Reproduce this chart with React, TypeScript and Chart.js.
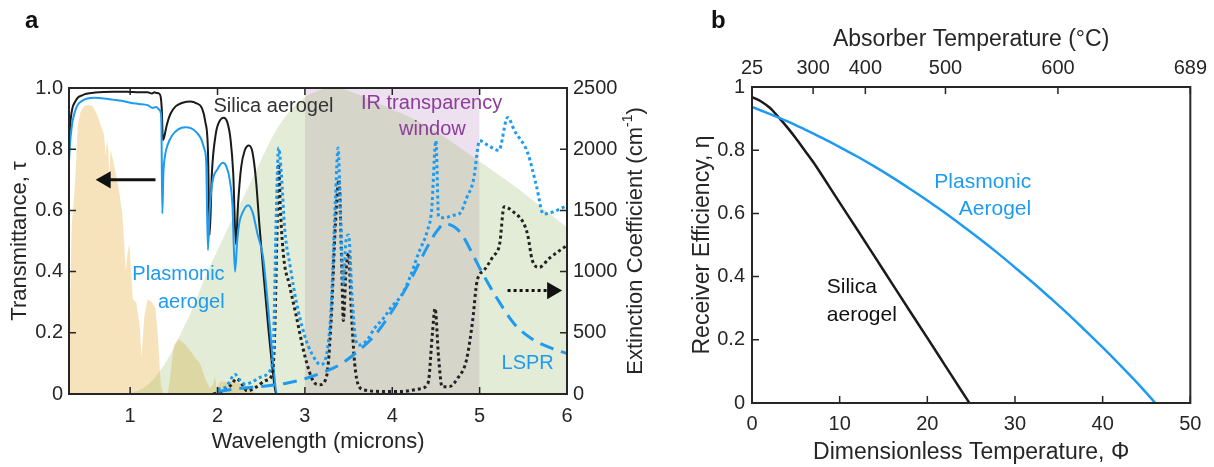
import React, { useEffect, useRef } from 'react';
import { Chart, registerables } from 'chart.js';

Chart.register(...registerables);

const FONT = "'Liberation Sans', Arial, Helvetica, sans-serif";
const INK = '#262626';
const BLUE = '#1e9bf0';
const PURPLE = '#8e3c9a';

Chart.defaults.font.family = FONT;

// ---------- panel a: spectra ----------
// AM1.5-style solar spectrum, scaled onto the transmittance axis
const SOLAR_WL = [0.30, 0.315, 0.33, 0.36, 0.38, 0.40, 0.43, 0.47, 0.52, 0.57, 0.62, 0.66, 0.70, 0.72, 0.735, 0.75, 0.76, 0.775, 0.80, 0.85, 0.88, 0.91, 0.93, 0.95, 0.97, 0.99, 1.01, 1.03, 1.07, 1.11, 1.13, 1.16, 1.20, 1.25, 1.29, 1.32, 1.35, 1.38, 1.43, 1.46, 1.50, 1.55, 1.62, 1.68, 1.74, 1.80, 1.86, 1.91, 1.95, 1.97, 1.99, 2.03, 2.10, 2.20, 2.30, 2.40, 2.45];
const SOLAR_REL = [0, 0.30, 0.55, 0.65, 0.75, 0.88, 0.92, 0.94, 0.945, 0.94, 0.915, 0.88, 0.85, 0.78, 0.83, 0.80, 0.70, 0.80, 0.77, 0.70, 0.65, 0.59, 0.50, 0.40, 0.46, 0.49, 0.40, 0.31, 0.30, 0.22, 0.12, 0.25, 0.31, 0.30, 0.28, 0.18, 0.03, 0, 0, 0.06, 0.16, 0.18, 0.165, 0.145, 0.12, 0.10, 0.05, 0.02, 0.03, 0.06, 0.02, 0.04, 0.04, 0.04, 0.03, 0.01, 0];

// Absorber thermal emission, relative
const BB_WL = [0.95, 1.0, 1.1, 1.2, 1.3, 1.4, 1.5, 1.6, 1.7, 1.8, 1.9, 2.0, 2.1, 2.2, 2.3, 2.4, 2.5, 2.6, 2.7, 2.8, 2.9, 3.0, 3.1, 3.2, 3.3, 3.4, 3.6, 3.8, 4.0, 4.2, 4.4, 4.6, 4.8, 5.0, 5.2, 5.4, 5.6, 5.8, 6.0];
const BB_REL = [0, 0.003, 0.012, 0.03, 0.06, 0.10, 0.15, 0.21, 0.27, 0.34, 0.41, 0.47, 0.53, 0.59, 0.645, 0.705, 0.765, 0.825, 0.875, 0.915, 0.945, 0.97, 0.985, 0.995, 1.0, 0.998, 0.98, 0.955, 0.93, 0.905, 0.875, 0.84, 0.80, 0.76, 0.72, 0.68, 0.635, 0.59, 0.545];

// IR transparency window
const WINDOW_WL = [3, 5];
const WINDOW_TOP = [1, 1];

// Transmittance
const SILICA_T_WL = [0.30, 0.31, 0.32, 0.34, 0.37, 0.40, 0.45, 0.50, 0.60, 0.70, 0.80, 0.90, 1.00, 1.10, 1.20, 1.25, 1.28, 1.30, 1.33, 1.35, 1.362, 1.375, 1.39, 1.42, 1.46, 1.52, 1.60, 1.69, 1.76, 1.82, 1.86, 1.89, 1.91, 1.935, 1.98, 2.03, 2.07, 2.11, 2.15, 2.18, 2.21, 2.235, 2.27, 2.31, 2.36, 2.40, 2.44, 2.48, 2.53, 2.58, 2.63, 2.67, 2.72];
const SILICA_T = [0.80, 0.86, 0.90, 0.935, 0.955, 0.968, 0.976, 0.981, 0.985, 0.987, 0.988, 0.988, 0.987, 0.986, 0.986, 0.982, 0.986, 0.984, 0.982, 0.97, 0.93, 0.83, 0.84, 0.88, 0.915, 0.94, 0.952, 0.956, 0.95, 0.935, 0.89, 0.80, 0.52, 0.72, 0.85, 0.895, 0.903, 0.89, 0.83, 0.72, 0.49, 0.62, 0.74, 0.795, 0.812, 0.79, 0.70, 0.55, 0.38, 0.22, 0.08, 0.0, 0.0];
const PLASMONIC_T_WL = [0.30, 0.31, 0.32, 0.34, 0.37, 0.40, 0.45, 0.50, 0.60, 0.70, 0.80, 0.90, 1.00, 1.10, 1.20, 1.26, 1.30, 1.33, 1.35, 1.358, 1.368, 1.38, 1.40, 1.43, 1.48, 1.55, 1.63, 1.70, 1.76, 1.81, 1.85, 1.87, 1.89, 1.91, 1.94, 2.00, 2.06, 2.10, 2.14, 2.17, 2.20, 2.225, 2.25, 2.29, 2.35, 2.40, 2.46, 2.52, 2.58, 2.64, 2.68, 2.72];
const PLASMONIC_T = [0.76, 0.81, 0.845, 0.89, 0.925, 0.945, 0.958, 0.965, 0.968, 0.966, 0.962, 0.958, 0.952, 0.948, 0.944, 0.935, 0.938, 0.93, 0.92, 0.88, 0.59, 0.72, 0.78, 0.815, 0.845, 0.865, 0.872, 0.868, 0.855, 0.835, 0.80, 0.76, 0.47, 0.60, 0.69, 0.735, 0.756, 0.745, 0.70, 0.62, 0.40, 0.50, 0.56, 0.595, 0.617, 0.595, 0.52, 0.45, 0.28, 0.09, 0.0, 0.0];

// Extinction coefficient (cm^-1)
const SILICA_EXT_WL = [1.95, 2.05, 2.15, 2.22, 2.28, 2.34, 2.45, 2.55, 2.62, 2.65, 2.68, 2.70, 2.72, 2.76, 2.82, 2.90, 3.00, 3.10, 3.17, 3.25, 3.30, 3.35, 3.39, 3.42, 3.44, 3.47, 3.50, 3.53, 3.57, 3.62, 3.70, 3.90, 4.10, 4.30, 4.41, 4.46, 4.49, 4.53, 4.57, 4.65, 4.75, 4.85, 4.92, 4.97, 5.05, 5.15, 5.23, 5.28, 5.40, 5.50, 5.55, 5.60, 5.68, 5.80, 6.00];
const SILICA_EXT = [0, 20, 70, 125, 80, 25, 60, 110, 150, 400, 1300, 1880, 1500, 1100, 900, 640, 310, 100, 75, 150, 600, 1400, 1750, 1100, 600, 1000, 1150, 700, 250, 60, 30, 20, 20, 40, 90, 500, 700, 300, 60, 60, 130, 280, 600, 920, 1010, 1120, 1230, 1530, 1480, 1400, 1300, 1100, 1035, 1110, 1215];
const PLASMONIC_EXT_WL = [2.00, 2.10, 2.20, 2.26, 2.32, 2.40, 2.50, 2.60, 2.64, 2.67, 2.70, 2.73, 2.77, 2.83, 2.90, 3.00, 3.08, 3.18, 3.25, 3.30, 3.35, 3.38, 3.41, 3.44, 3.47, 3.50, 3.54, 3.58, 3.62, 3.70, 3.80, 3.90, 4.00, 4.10, 4.20, 4.30, 4.40, 4.45, 4.50, 4.53, 4.60, 4.70, 4.78, 4.85, 4.93, 5.00, 5.10, 5.22, 5.32, 5.40, 5.55, 5.65, 5.73, 5.85, 6.00];
const PLASMONIC_EXT = [40, 60, 160, 110, 80, 100, 140, 190, 400, 1400, 2010, 1800, 1340, 1050, 760, 470, 330, 240, 330, 700, 1600, 2010, 1400, 900, 1250, 1300, 800, 450, 400, 430, 540, 620, 720, 800, 950, 1150, 1330, 1500, 2070, 1450, 1440, 1460, 1480, 1600, 1750, 2070, 2030, 1990, 2260, 2150, 1970, 1700, 1470, 1490, 1540];
const LSPR_WL = [2.0, 2.2, 2.4, 2.6, 2.8, 3.0, 3.2, 3.4, 3.6, 3.8, 4.0, 4.2, 4.4, 4.5, 4.6, 4.7, 4.8, 4.9, 5.0, 5.1, 5.2, 5.4, 5.6, 5.8, 6.0];
const LSPR_EXT = [20, 40, 55, 70, 90, 125, 175, 240, 345, 480, 680, 920, 1200, 1320, 1390, 1370, 1300, 1170, 1030, 900, 780, 570, 450, 380, 330];

// Arrows pointing to each curve's axis
const LEFT_ARROW_WL = [1.29, 0.72];
const LEFT_ARROW_T = [0.70, 0.70];
const RIGHT_ARROW_WL = [5.32, 5.83];
const RIGHT_ARROW_EXT = [845, 845];

const WL_TICKS = [1, 2, 3, 4, 5, 6];
const T_TICKS = [0, 0.2, 0.4, 0.6, 0.8, 1.0];
const EXT_TICKS = [0, 500, 1000, 1500, 2000, 2500];

// ---------- panel b: receiver efficiency ----------
const SILICA_PHI = [0, 1, 2, 2.4, 3, 4, 5, 6, 7, 8, 10, 12, 14, 16, 18, 20, 22, 24, 24.8];
const SILICA_ETA = [0.968, 0.955, 0.935, 0.924, 0.905, 0.873, 0.838, 0.800, 0.762, 0.720, 0.634, 0.549, 0.463, 0.377, 0.291, 0.206, 0.120, 0.034, 0];
const PLASMONIC_PHI = [0, 2, 4, 6, 8, 10, 12, 14, 16, 18, 20, 22, 24, 26, 28, 30, 32, 34, 36, 38, 40, 42, 44, 46];
const PLASMONIC_ETA = [0.937, 0.915, 0.892, 0.866, 0.839, 0.810, 0.780, 0.748, 0.714, 0.678, 0.641, 0.602, 0.561, 0.519, 0.475, 0.429, 0.382, 0.333, 0.283, 0.230, 0.176, 0.120, 0.062, 0];

const PHI_TICKS = [0, 10, 20, 30, 40, 50];
const ETA_TICKS = [0, 0.2, 0.4, 0.6, 0.8, 1];
const TEMP_TICK_PHI = [0, 6.97, 12.93, 22.07, 34.9, 50];
const TEMP_TICK_LABELS = ['25', '300', '400', '500', '600', '689'];

type Pt = { x: number; y: number };
const zip = (xs: number[], ys: number[]): Pt[] => xs.map((x, i) => ({ x, y: ys[i] }));
const fixedTicks = (values: number[]) => (scale: any) => {
  scale.ticks = values.map((value) => ({ value }));
};

type Edge = 'top' | 'bottom' | 'left' | 'right';
type TickSide = { scale: string; edge: Edge };

// Box around the plot area with inward-pointing tick marks
function framePlugin(sides: TickSide[]) {
  return {
    id: 'frame',
    afterDatasetsDraw(chart: any) {
      const { ctx, chartArea: a } = chart;
      const L = 7;
      ctx.save();
      ctx.strokeStyle = INK;
      ctx.lineWidth = 1.5;
      ctx.beginPath();
      for (const s of sides) {
        const sc = chart.scales[s.scale];
        for (const t of sc.ticks) {
          const p = sc.getPixelForValue(t.value);
          if (s.edge === 'bottom') { ctx.moveTo(p, a.bottom); ctx.lineTo(p, a.bottom - L); }
          else if (s.edge === 'top') { ctx.moveTo(p, a.top); ctx.lineTo(p, a.top + L); }
          else if (s.edge === 'left') { ctx.moveTo(a.left, p); ctx.lineTo(a.left + L, p); }
          else { ctx.moveTo(a.right, p); ctx.lineTo(a.right - L, p); }
        }
      }
      ctx.stroke();
      ctx.lineWidth = 2;
      ctx.strokeRect(a.left, a.top, a.right - a.left, a.bottom - a.top);
      ctx.restore();
    },
  };
}

type Note = { text: string; x: number; y: number; color: string; size: number; align?: CanvasTextAlign };

// Text labels placed in data coordinates, plus the panel letter
function notesPlugin(notes: Note[], letter: { text: string; x: number; y: number }, extra?: (chart: any) => void) {
  return {
    id: 'notes',
    afterDraw(chart: any) {
      const { ctx } = chart;
      const xs = chart.scales.x;
      const ys = chart.scales.y;
      ctx.save();
      ctx.textBaseline = 'middle';
      for (const n of notes) {
        ctx.font = `${n.size}px ${FONT}`;
        ctx.fillStyle = n.color;
        ctx.textAlign = n.align || 'center';
        ctx.fillText(n.text, xs.getPixelForValue(n.x), ys.getPixelForValue(n.y));
      }
      ctx.font = `bold 24px ${FONT}`;
      ctx.fillStyle = '#111';
      ctx.textAlign = 'left';
      ctx.textBaseline = 'alphabetic';
      ctx.fillText(letter.text, letter.x, letter.y);
      ctx.restore();
      if (extra) extra(chart);
    },
  };
}

// Right-hand axis title, read bottom-to-top, with a superscript unit
function drawExtinctionTitle(chart: any) {
  const { ctx, chartArea: a } = chart;
  const main = 'Extinction Coefficient (cm';
  const sup = '-1';
  const tail = ')';
  const big = `22px ${FONT}`;
  const small = `14px ${FONT}`;
  ctx.save();
  ctx.font = big;
  const w1 = ctx.measureText(main).width;
  const w3 = ctx.measureText(tail).width;
  ctx.font = small;
  const w2 = ctx.measureText(sup).width;
  const total = w1 + w2 + w3;
  ctx.translate(a.right + 69, (a.top + a.bottom) / 2);
  ctx.rotate(-Math.PI / 2);
  ctx.fillStyle = INK;
  ctx.textBaseline = 'middle';
  ctx.textAlign = 'left';
  let x = -total / 2;
  ctx.font = big;
  ctx.fillText(main, x, 0);
  x += w1;
  ctx.font = small;
  ctx.fillText(sup, x, -8);
  x += w2;
  ctx.font = big;
  ctx.fillText(tail, x, 0);
  ctx.restore();
}

const tickFont = { family: FONT, size: 20 };

function baseAxis(extra: any) {
  return {
    grid: { display: false, drawTicks: false },
    border: { display: false },
    ...extra,
    ticks: { color: INK, font: tickFont, maxRotation: 0, autoSkip: false, ...(extra.ticks || {}) },
  };
}

function fillSeries(data: Pt[], color: string, order: number, yAxisID = 'y', smooth = false) {
  return {
    data,
    yAxisID,
    order,
    fill: 'origin',
    backgroundColor: color,
    borderColor: 'rgba(0,0,0,0)',
    borderWidth: 0,
    pointRadius: 0,
    tension: 0,
    cubicInterpolationMode: smooth ? 'monotone' : 'default',
  };
}

function lineSeries(data: Pt[], color: string, width: number, order: number, yAxisID = 'y', dash: number[] = []) {
  return {
    data,
    yAxisID,
    order,
    fill: false,
    borderColor: color,
    borderWidth: width,
    borderDash: dash,
    borderCapStyle: 'butt',
    pointRadius: 0,
    cubicInterpolationMode: 'monotone',
  };
}

function arrowSeries(data: Pt[], dash: number[], rotation: number, yAxisID: string) {
  return {
    data,
    yAxisID,
    order: 0,
    fill: false,
    borderColor: '#111',
    borderWidth: 3,
    borderDash: dash,
    pointRadius: [0, 10],
    pointStyle: 'triangle',
    rotation,
    pointBackgroundColor: '#111',
    pointBorderWidth: 0,
    pointBorderColor: 'rgba(0,0,0,0)',
    tension: 0,
    clip: false,
  };
}

function PanelA() {
  const ref = useRef<HTMLCanvasElement>(null);
  useEffect(() => {
    const notes: Note[] = [
      { text: 'Silica aerogel', x: 2.64, y: 0.938, color: '#333', size: 20 },
      { text: 'IR transparency', x: 4.45, y: 0.948, color: PURPLE, size: 20 },
      { text: 'window', x: 4.46, y: 0.866, color: PURPLE, size: 20 },
      { text: 'Plasmonic', x: 1.553, y: 0.389, color: BLUE, size: 20 },
      { text: 'aerogel', x: 1.70, y: 0.30, color: BLUE, size: 20 },
      { text: 'LSPR', x: 5.55, y: 0.101, color: BLUE, size: 20 },
    ];
    const chart = new Chart(ref.current as HTMLCanvasElement, {
      type: 'line',
      data: {
        datasets: [
          fillSeries(zip(SOLAR_WL, SOLAR_REL), '#f7e3bb', 50),
          fillSeries(zip(WINDOW_WL, WINDOW_TOP), '#ede1ef', 45),
          fillSeries(zip(BB_WL, BB_REL), 'rgba(143,179,91,0.25)', 40, 'y', true),
          lineSeries(zip(SILICA_T_WL, SILICA_T), '#1a1a1a', 2, 8),
          lineSeries(zip(PLASMONIC_T_WL, PLASMONIC_T), BLUE, 2, 7),
          lineSeries(zip(SILICA_EXT_WL, SILICA_EXT), '#222', 3, 6, 'y2', [3, 3]),
          lineSeries(zip(PLASMONIC_EXT_WL, PLASMONIC_EXT), BLUE, 3, 5, 'y2', [3, 3]),
          lineSeries(zip(LSPR_WL, LSPR_EXT), BLUE, 3, 4, 'y2', [14, 8]),
          arrowSeries(zip(LEFT_ARROW_WL, LEFT_ARROW_T), [], -90, 'y'),
          arrowSeries(zip(RIGHT_ARROW_WL, RIGHT_ARROW_EXT), [3, 3], 90, 'y2'),
        ] as any,
      },
      options: {
        animation: false,
        responsive: false,
        devicePixelRatio: 1,
        events: [],
        layout: { padding: { top: 88, left: 0, right: 0, bottom: 0 } },
        plugins: { legend: { display: false }, tooltip: { enabled: false } },
        scales: {
          x: baseAxis({
            type: 'linear',
            min: 0.3,
            max: 6,
            afterBuildTicks: fixedTicks(WL_TICKS),
            afterFit: (s: any) => { s.height = 73; },
            ticks: { padding: 10, callback: (v: any) => String(v) },
            title: { display: true, text: 'Wavelength (microns)', color: INK, font: { family: FONT, size: 22 }, padding: { top: 0, bottom: 12 } },
          }),
          y: baseAxis({
            type: 'linear',
            position: 'left',
            min: 0,
            max: 1,
            afterBuildTicks: fixedTicks(T_TICKS),
            afterFit: (s: any) => { s.width = 69; },
            ticks: { padding: 6, callback: (v: any) => (v === 0 ? '0' : Number(v).toFixed(1)) },
            title: { display: true, text: 'Transmittance, τ', color: INK, font: { family: FONT, size: 22 }, padding: { top: 7, bottom: 0 } },
          }),
          y2: baseAxis({
            type: 'linear',
            position: 'right',
            min: 0,
            max: 2500,
            afterBuildTicks: fixedTicks(EXT_TICKS),
            afterFit: (s: any) => { s.width = 88; },
            ticks: { padding: 6, callback: (v: any) => String(v) },
            title: { display: false },
          }),
        },
      } as any,
      plugins: [
        framePlugin([
          { scale: 'x', edge: 'bottom' },
          { scale: 'x', edge: 'top' },
          { scale: 'y', edge: 'left' },
          { scale: 'y2', edge: 'right' },
        ]),
        notesPlugin(notes, { text: 'a', x: 25, y: 28 }, drawExtinctionTitle),
      ] as any,
    });
    return () => chart.destroy();
  }, []);
  return <canvas ref={ref} width={655} height={467} style={{ position: 'absolute', left: 0, top: 0, width: 655, height: 467 }} />;
}

function PanelB() {
  const ref = useRef<HTMLCanvasElement>(null);
  useEffect(() => {
    const notes: Note[] = [
      { text: 'Plasmonic', x: 31.85, y: 0.70, color: BLUE, size: 21, align: 'right' },
      { text: 'Aerogel', x: 31.85, y: 0.614, color: BLUE, size: 21, align: 'right' },
      { text: 'Silica', x: 8.53, y: 0.367, color: '#111', size: 21, align: 'left' },
      { text: 'aerogel', x: 8.53, y: 0.278, color: '#111', size: 21, align: 'left' },
    ];
    const chart = new Chart(ref.current as HTMLCanvasElement, {
      type: 'line',
      data: {
        datasets: [
          lineSeries(zip(SILICA_PHI, SILICA_ETA), '#1a1a1a', 2.5, 2),
          lineSeries(zip(PLASMONIC_PHI, PLASMONIC_ETA), BLUE, 2.5, 1),
        ] as any,
      },
      options: {
        animation: false,
        responsive: false,
        devicePixelRatio: 1,
        events: [],
        layout: { padding: { top: 0, left: 0, right: 22, bottom: 0 } },
        plugins: { legend: { display: false }, tooltip: { enabled: false } },
        scales: {
          x: baseAxis({
            type: 'linear',
            position: 'bottom',
            min: 0,
            max: 50,
            afterBuildTicks: fixedTicks(PHI_TICKS),
            afterFit: (s: any) => { s.height = 64; },
            ticks: { padding: 9, callback: (v: any) => String(v) },
            title: { display: true, text: 'Dimensionless Temperature, Φ', color: INK, font: { family: FONT, size: 23 }, padding: { top: 0, bottom: 1 } },
          }),
          x2: baseAxis({
            type: 'linear',
            position: 'top',
            min: 0,
            max: 50,
            afterBuildTicks: fixedTicks(TEMP_TICK_PHI),
            afterFit: (s: any) => { s.height = 87; },
            ticks: { padding: 7, callback: (_v: any, i: number) => TEMP_TICK_LABELS[i] },
            title: { display: true, text: 'Absorber Temperature (°C)', color: INK, font: { family: FONT, size: 23 }, padding: { top: 26, bottom: 0 } },
          }),
          y: baseAxis({
            type: 'linear',
            position: 'left',
            min: 0,
            max: 1,
            afterBuildTicks: fixedTicks(ETA_TICKS),
            afterFit: (s: any) => { s.width = 92; },
            ticks: { padding: 7, callback: (v: any) => (v === 0 || v === 1 ? String(v) : Number(v).toFixed(1)) },
            title: { display: true, text: 'Receiver Efficiency, η', color: INK, font: { family: FONT, size: 23 }, padding: { top: 29, bottom: 0 } },
          }),
        },
      } as any,
      plugins: [
        framePlugin([
          { scale: 'x', edge: 'bottom' },
          { scale: 'x2', edge: 'top' },
          { scale: 'y', edge: 'left' },
        ]),
        notesPlugin(notes, { text: 'b', x: 51, y: 28 }),
      ] as any,
    });
    return () => chart.destroy();
  }, []);
  return <canvas ref={ref} width={554} height={467} style={{ position: 'absolute', left: 660, top: 0, width: 554, height: 467 }} />;
}

export default function App() {
  return (
    <div style={{ position: 'absolute', left: 0, top: 0, width: 1214, height: 467, background: '#fff', overflow: 'hidden' }}>
      <PanelA />
      <PanelB />
    </div>
  );
}
